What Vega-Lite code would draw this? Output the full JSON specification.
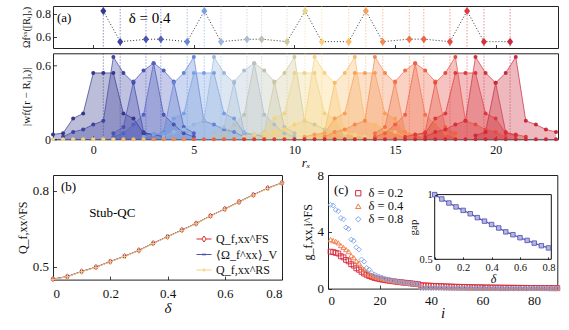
{
"$schema":"https://vega.github.io/schema/vega-lite/v6.json",
"background":"white",
"padding":{"left":15,"top":5,"right":5,"bottom":5},
"config":{"font":"Liberation Serif","view":{"stroke":"#222","strokeWidth":1},
"axis":{"grid":false,"domain":false,"tickSize":-3.5,"tickColor":"#111","tickWidth":0.8,"labelPadding":8,"labelFont":"Liberation Serif","labelFontSize":13,"labelColor":"#111","titleFont":"Liberation Serif","titleFontSize":13,"titleFontWeight":"normal","titleColor":"#111","titlePadding":3},
"legend":{"labelFont":"Liberation Serif","labelColor":"#111"}},
"datasets":{
"cent":[{"k":0,"r":0.5,"om":0.826},{"k":1,"r":1.34,"om":0.556},{"k":2,"r":2.62,"om":0.576},{"k":3,"r":3.36,"om":0.578},{"k":4,"r":4.67,"om":0.556},{"k":5,"r":5.52,"om":0.826},{"k":6,"r":6.35,"om":0.556},{"k":7,"r":7.64,"om":0.576},{"k":8,"r":8.37,"om":0.578},{"k":9,"r":9.63,"om":0.556},{"k":10,"r":10.53,"om":0.826},{"k":11,"r":11.36,"om":0.556},{"k":12,"r":12.7,"om":0.556},{"k":13,"r":13.55,"om":0.826},{"k":14,"r":14.39,"om":0.556},{"k":15,"r":15.71,"om":0.578},{"k":16,"r":16.43,"om":0.578},{"k":17,"r":17.73,"om":0.556},{"k":18,"r":18.58,"om":0.826},{"k":19,"r":19.42,"om":0.556},{"k":20,"r":20.72,"om":0.556}],
"wf":[
{"k":0,"r":-2,"w":0.04},{"k":0,"r":-1.5,"w":0.05},{"k":0,"r":-1,"w":0.17},{"k":0,"r":-0.5,"w":0.21},{"k":0,"r":0,"w":0.54},{"k":0,"r":0.5,"w":0.54},{"k":0,"r":1,"w":0.54},{"k":0,"r":1.5,"w":0.21},{"k":0,"r":2,"w":0.17},{"k":0,"r":2.5,"w":0.05},{"k":0,"r":3,"w":0.04},{"k":0,"r":3.5,"w":0.02},
{"k":1,"r":-1.5,"w":0.02},{"k":1,"r":-1,"w":0.06},{"k":1,"r":-0.5,"w":0.08},{"k":1,"r":0,"w":0.12},{"k":1,"r":0.5,"w":0.15},{"k":1,"r":1,"w":0.67},{"k":1,"r":1.5,"w":0.54},{"k":1,"r":2,"w":0.46},{"k":1,"r":2.5,"w":0.06},{"k":1,"r":3,"w":0.03},
{"k":2,"r":1,"w":0.05},{"k":2,"r":1.5,"w":0.1},{"k":2,"r":2,"w":0.47},{"k":2,"r":2.5,"w":0.56},{"k":2,"r":3,"w":0.62},{"k":2,"r":3.5,"w":0.2},{"k":2,"r":4,"w":0.12},{"k":2,"r":4.5,"w":0.05},{"k":2,"r":5,"w":0.02},
{"k":3,"r":1,"w":0.02},{"k":3,"r":1.5,"w":0.05},{"k":3,"r":2,"w":0.12},{"k":3,"r":2.5,"w":0.2},{"k":3,"r":3,"w":0.62},{"k":3,"r":3.5,"w":0.56},{"k":3,"r":4,"w":0.47},{"k":3,"r":4.5,"w":0.1},{"k":3,"r":5,"w":0.05},
{"k":4,"r":3,"w":0.03},{"k":4,"r":3.5,"w":0.06},{"k":4,"r":4,"w":0.46},{"k":4,"r":4.5,"w":0.54},{"k":4,"r":5,"w":0.67},{"k":4,"r":5.5,"w":0.15},{"k":4,"r":6,"w":0.12},{"k":4,"r":6.5,"w":0.08},{"k":4,"r":7,"w":0.06},{"k":4,"r":7.5,"w":0.02},
{"k":5,"r":2.5,"w":0.02},{"k":5,"r":3,"w":0.04},{"k":5,"r":3.5,"w":0.05},{"k":5,"r":4,"w":0.17},{"k":5,"r":4.5,"w":0.21},{"k":5,"r":5,"w":0.54},{"k":5,"r":5.5,"w":0.54},{"k":5,"r":6,"w":0.54},{"k":5,"r":6.5,"w":0.21},{"k":5,"r":7,"w":0.17},{"k":5,"r":7.5,"w":0.05},{"k":5,"r":8,"w":0.04},{"k":5,"r":8.5,"w":0.02},
{"k":6,"r":3.5,"w":0.02},{"k":6,"r":4,"w":0.06},{"k":6,"r":4.5,"w":0.08},{"k":6,"r":5,"w":0.12},{"k":6,"r":5.5,"w":0.15},{"k":6,"r":6,"w":0.67},{"k":6,"r":6.5,"w":0.54},{"k":6,"r":7,"w":0.46},{"k":6,"r":7.5,"w":0.06},{"k":6,"r":8,"w":0.03},
{"k":7,"r":6,"w":0.05},{"k":7,"r":6.5,"w":0.1},{"k":7,"r":7,"w":0.47},{"k":7,"r":7.5,"w":0.56},{"k":7,"r":8,"w":0.62},{"k":7,"r":8.5,"w":0.2},{"k":7,"r":9,"w":0.12},{"k":7,"r":9.5,"w":0.05},{"k":7,"r":10,"w":0.02},
{"k":8,"r":6,"w":0.02},{"k":8,"r":6.5,"w":0.05},{"k":8,"r":7,"w":0.12},{"k":8,"r":7.5,"w":0.2},{"k":8,"r":8,"w":0.62},{"k":8,"r":8.5,"w":0.56},{"k":8,"r":9,"w":0.47},{"k":8,"r":9.5,"w":0.1},{"k":8,"r":10,"w":0.05},
{"k":9,"r":8,"w":0.03},{"k":9,"r":8.5,"w":0.06},{"k":9,"r":9,"w":0.46},{"k":9,"r":9.5,"w":0.54},{"k":9,"r":10,"w":0.67},{"k":9,"r":10.5,"w":0.15},{"k":9,"r":11,"w":0.12},{"k":9,"r":11.5,"w":0.08},{"k":9,"r":12,"w":0.06},{"k":9,"r":12.5,"w":0.02},
{"k":10,"r":7.5,"w":0.02},{"k":10,"r":8,"w":0.04},{"k":10,"r":8.5,"w":0.05},{"k":10,"r":9,"w":0.17},{"k":10,"r":9.5,"w":0.21},{"k":10,"r":10,"w":0.54},{"k":10,"r":10.5,"w":0.54},{"k":10,"r":11,"w":0.54},{"k":10,"r":11.5,"w":0.21},{"k":10,"r":12,"w":0.17},{"k":10,"r":12.5,"w":0.05},{"k":10,"r":13,"w":0.04},{"k":10,"r":13.5,"w":0.02},
{"k":11,"r":8.5,"w":0.02},{"k":11,"r":9,"w":0.06},{"k":11,"r":9.5,"w":0.08},{"k":11,"r":10,"w":0.12},{"k":11,"r":10.5,"w":0.15},{"k":11,"r":11,"w":0.67},{"k":11,"r":11.5,"w":0.54},{"k":11,"r":12,"w":0.46},{"k":11,"r":12.5,"w":0.06},{"k":11,"r":13,"w":0.03},
{"k":12,"r":11,"w":0.03},{"k":12,"r":11.5,"w":0.06},{"k":12,"r":12,"w":0.46},{"k":12,"r":12.5,"w":0.54},{"k":12,"r":13,"w":0.67},{"k":12,"r":13.5,"w":0.15},{"k":12,"r":14,"w":0.12},{"k":12,"r":14.5,"w":0.08},{"k":12,"r":15,"w":0.06},{"k":12,"r":15.5,"w":0.02},
{"k":13,"r":10.5,"w":0.02},{"k":13,"r":11,"w":0.04},{"k":13,"r":11.5,"w":0.05},{"k":13,"r":12,"w":0.17},{"k":13,"r":12.5,"w":0.21},{"k":13,"r":13,"w":0.54},{"k":13,"r":13.5,"w":0.54},{"k":13,"r":14,"w":0.54},{"k":13,"r":14.5,"w":0.21},{"k":13,"r":15,"w":0.17},{"k":13,"r":15.5,"w":0.05},{"k":13,"r":16,"w":0.04},{"k":13,"r":16.5,"w":0.02},
{"k":14,"r":11.5,"w":0.02},{"k":14,"r":12,"w":0.06},{"k":14,"r":12.5,"w":0.08},{"k":14,"r":13,"w":0.12},{"k":14,"r":13.5,"w":0.15},{"k":14,"r":14,"w":0.67},{"k":14,"r":14.5,"w":0.54},{"k":14,"r":15,"w":0.46},{"k":14,"r":15.5,"w":0.06},{"k":14,"r":16,"w":0.03},
{"k":15,"r":14,"w":0.05},{"k":15,"r":14.5,"w":0.1},{"k":15,"r":15,"w":0.47},{"k":15,"r":15.5,"w":0.56},{"k":15,"r":16,"w":0.62},{"k":15,"r":16.5,"w":0.2},{"k":15,"r":17,"w":0.12},{"k":15,"r":17.5,"w":0.05},{"k":15,"r":18,"w":0.02},
{"k":16,"r":14,"w":0.02},{"k":16,"r":14.5,"w":0.05},{"k":16,"r":15,"w":0.12},{"k":16,"r":15.5,"w":0.2},{"k":16,"r":16,"w":0.62},{"k":16,"r":16.5,"w":0.56},{"k":16,"r":17,"w":0.47},{"k":16,"r":17.5,"w":0.1},{"k":16,"r":18,"w":0.05},
{"k":17,"r":16,"w":0.03},{"k":17,"r":16.5,"w":0.06},{"k":17,"r":17,"w":0.46},{"k":17,"r":17.5,"w":0.54},{"k":17,"r":18,"w":0.67},{"k":17,"r":18.5,"w":0.15},{"k":17,"r":19,"w":0.12},{"k":17,"r":19.5,"w":0.08},{"k":17,"r":20,"w":0.06},{"k":17,"r":20.5,"w":0.02},
{"k":18,"r":15.5,"w":0.02},{"k":18,"r":16,"w":0.04},{"k":18,"r":16.5,"w":0.05},{"k":18,"r":17,"w":0.17},{"k":18,"r":17.5,"w":0.21},{"k":18,"r":18,"w":0.54},{"k":18,"r":18.5,"w":0.54},{"k":18,"r":19,"w":0.54},{"k":18,"r":19.5,"w":0.21},{"k":18,"r":20,"w":0.17},{"k":18,"r":20.5,"w":0.05},{"k":18,"r":21,"w":0.04},{"k":18,"r":21.5,"w":0.02},
{"k":19,"r":16.5,"w":0.02},{"k":19,"r":17,"w":0.06},{"k":19,"r":17.5,"w":0.08},{"k":19,"r":18,"w":0.12},{"k":19,"r":18.5,"w":0.15},{"k":19,"r":19,"w":0.67},{"k":19,"r":19.5,"w":0.54},{"k":19,"r":20,"w":0.46},{"k":19,"r":20.5,"w":0.06},{"k":19,"r":21,"w":0.03},
{"k":20,"r":19,"w":0.03},{"k":20,"r":19.5,"w":0.06},{"k":20,"r":20,"w":0.46},{"k":20,"r":20.5,"w":0.54},{"k":20,"r":21,"w":0.67},{"k":20,"r":21.5,"w":0.15},{"k":20,"r":22,"w":0.12},{"k":20,"r":22.5,"w":0.08},{"k":20,"r":23,"w":0.06}],
"sites":[{"r":-2,"k":10,"w":0},{"r":-1.5,"k":10,"w":0},{"r":-1,"k":10,"w":0},{"r":-0.5,"k":10,"w":0},{"r":0,"k":11,"w":0},{"r":0.5,"k":11,"w":0},{"r":1,"k":11,"w":0},{"r":1.5,"k":12,"w":0},{"r":2,"k":12,"w":0},{"r":2.5,"k":12,"w":0},{"r":3,"k":14,"w":0},{"r":3.5,"k":14,"w":0},{"r":4,"k":14,"w":0},{"r":4.5,"k":14,"w":0},{"r":5,"k":16,"w":0},{"r":5.5,"k":16,"w":0},{"r":6,"k":16,"w":0},{"r":6.5,"k":16,"w":0},{"r":7,"k":16,"w":0},{"r":7.5,"k":18,"w":0},{"r":8,"k":18,"w":0},{"r":8.5,"k":18,"w":0},{"r":9,"k":18,"w":0},{"r":9.5,"k":18,"w":0},{"r":10,"k":20,"w":0},{"r":10.5,"k":20,"w":0},{"r":11,"k":20,"w":0},{"r":11.5,"k":20,"w":0},{"r":12,"k":20,"w":0},{"r":12.5,"k":20,"w":0},{"r":13,"k":20,"w":0},{"r":13.5,"k":20,"w":0},{"r":14,"k":20,"w":0},{"r":14.5,"k":20,"w":0},{"r":15,"k":20,"w":0},{"r":15.5,"k":20,"w":0},{"r":16,"k":20,"w":0},{"r":16.5,"k":20,"w":0},{"r":17,"k":20,"w":0},{"r":17.5,"k":20,"w":0},{"r":18,"k":20,"w":0},{"r":18.5,"k":20,"w":0},{"r":19,"k":20,"w":0},{"r":19.5,"k":20,"w":0},{"r":20,"k":20,"w":0},{"r":20.5,"k":20,"w":0},{"r":21,"k":20,"w":0},{"r":21.5,"k":20,"w":0},{"r":22,"k":20,"w":0},{"r":22.5,"k":20,"w":0},{"r":23,"k":20,"w":0}],
"qb":[{"x":0,"s":"FS","q":0.452},{"x":0.05,"s":"FS","q":0.462},{"x":0.1,"s":"FS","q":0.482},{"x":0.15,"s":"FS","q":0.499},{"x":0.2,"s":"FS","q":0.521},{"x":0.25,"s":"FS","q":0.542},{"x":0.3,"s":"FS","q":0.565},{"x":0.35,"s":"FS","q":0.593},{"x":0.4,"s":"FS","q":0.619},{"x":0.45,"s":"FS","q":0.645},{"x":0.5,"s":"FS","q":0.671},{"x":0.55,"s":"FS","q":0.701},{"x":0.6,"s":"FS","q":0.728},{"x":0.65,"s":"FS","q":0.756},{"x":0.7,"s":"FS","q":0.784},{"x":0.75,"s":"FS","q":0.81},{"x":0.8,"s":"FS","q":0.831},
{"x":0,"s":"OM","q":0.452},{"x":0.05,"s":"OM","q":0.462},{"x":0.1,"s":"OM","q":0.482},{"x":0.15,"s":"OM","q":0.499},{"x":0.2,"s":"OM","q":0.521},{"x":0.25,"s":"OM","q":0.542},{"x":0.3,"s":"OM","q":0.565},{"x":0.35,"s":"OM","q":0.593},{"x":0.4,"s":"OM","q":0.619},{"x":0.45,"s":"OM","q":0.645},{"x":0.5,"s":"OM","q":0.671},{"x":0.55,"s":"OM","q":0.701},{"x":0.6,"s":"OM","q":0.728},{"x":0.65,"s":"OM","q":0.756},{"x":0.7,"s":"OM","q":0.784},{"x":0.75,"s":"OM","q":0.81},{"x":0.8,"s":"OM","q":0.831},
{"x":0,"s":"RS","q":0.451},{"x":0.05,"s":"RS","q":0.461},{"x":0.1,"s":"RS","q":0.481},{"x":0.15,"s":"RS","q":0.498},{"x":0.2,"s":"RS","q":0.52},{"x":0.25,"s":"RS","q":0.541},{"x":0.3,"s":"RS","q":0.564},{"x":0.35,"s":"RS","q":0.592},{"x":0.4,"s":"RS","q":0.618},{"x":0.45,"s":"RS","q":0.644},{"x":0.5,"s":"RS","q":0.67},{"x":0.55,"s":"RS","q":0.7},{"x":0.6,"s":"RS","q":0.727},{"x":0.65,"s":"RS","q":0.755},{"x":0.7,"s":"RS","q":0.783},{"x":0.75,"s":"RS","q":0.809},{"x":0.8,"s":"RS","q":0.83}],
"gap":[{"x":0,"g":1.0},{"x":0.05,"g":0.966},{"x":0.1,"g":0.935},{"x":0.15,"g":0.905},{"x":0.2,"g":0.878},{"x":0.25,"g":0.852},{"x":0.3,"g":0.822},{"x":0.35,"g":0.795},{"x":0.4,"g":0.769},{"x":0.45,"g":0.742},{"x":0.5,"g":0.712},{"x":0.55,"g":0.69},{"x":0.6,"g":0.667},{"x":0.65,"g":0.646},{"x":0.7,"g":0.625},{"x":0.75,"g":0.605},{"x":0.8,"g":0.588}],
"gc":[
{"i":1,"d":"a","g":2.6},{"i":2,"d":"a","g":2.57},{"i":3,"d":"a","g":2.52},{"i":4,"d":"a","g":2.47},{"i":5,"d":"a","g":2.28},{"i":6,"d":"a","g":2.2},{"i":7,"d":"a","g":2.02},{"i":8,"d":"a","g":1.92},{"i":9,"d":"a","g":1.72},{"i":10,"d":"a","g":1.62},{"i":11,"d":"a","g":1.43},{"i":12,"d":"a","g":1.33},{"i":13,"d":"a","g":1.18},{"i":14,"d":"a","g":1.06},{"i":15,"d":"a","g":0.97},{"i":16,"d":"a","g":0.88},{"i":17,"d":"a","g":0.82},{"i":18,"d":"a","g":0.75},{"i":19,"d":"a","g":0.71},{"i":20,"d":"a","g":0.67},{"i":21,"d":"a","g":0.63},{"i":22,"d":"a","g":0.6},{"i":23,"d":"a","g":0.57},{"i":24,"d":"a","g":0.55},{"i":25,"d":"a","g":0.52},{"i":26,"d":"a","g":0.5},{"i":27,"d":"a","g":0.47},{"i":28,"d":"a","g":0.45},{"i":29,"d":"a","g":0.43},{"i":30,"d":"a","g":0.41},{"i":31,"d":"a","g":0.39},{"i":32,"d":"a","g":0.37},{"i":33,"d":"a","g":0.35},{"i":34,"d":"a","g":0.33},{"i":35,"d":"a","g":0.31},{"i":36,"d":"a","g":0.24},{"i":37,"d":"a","g":0.23},{"i":38,"d":"a","g":0.22},{"i":39,"d":"a","g":0.21},{"i":40,"d":"a","g":0.2},{"i":41,"d":"a","g":0.19},{"i":42,"d":"a","g":0.18},{"i":43,"d":"a","g":0.18},{"i":44,"d":"a","g":0.17},{"i":45,"d":"a","g":0.16},{"i":46,"d":"a","g":0.15},{"i":47,"d":"a","g":0.15},{"i":48,"d":"a","g":0.14},{"i":49,"d":"a","g":0.13},{"i":50,"d":"a","g":0.13},{"i":51,"d":"a","g":0.12},{"i":52,"d":"a","g":0.12},{"i":53,"d":"a","g":0.11},{"i":54,"d":"a","g":0.11},{"i":55,"d":"a","g":0.1},{"i":56,"d":"a","g":0.1},{"i":57,"d":"a","g":0.095},{"i":58,"d":"a","g":0.09},{"i":59,"d":"a","g":0.09},{"i":60,"d":"a","g":0.085},{"i":61,"d":"a","g":0.08},{"i":62,"d":"a","g":0.08},{"i":63,"d":"a","g":0.075},{"i":64,"d":"a","g":0.075},{"i":65,"d":"a","g":0.07},{"i":66,"d":"a","g":0.07},{"i":67,"d":"a","g":0.065},{"i":68,"d":"a","g":0.065},{"i":69,"d":"a","g":0.06},{"i":70,"d":"a","g":0.06},{"i":71,"d":"a","g":0.058},{"i":72,"d":"a","g":0.056},{"i":73,"d":"a","g":0.054},{"i":74,"d":"a","g":0.052},{"i":75,"d":"a","g":0.05},{"i":76,"d":"a","g":0.048},{"i":77,"d":"a","g":0.046},{"i":78,"d":"a","g":0.044},{"i":79,"d":"a","g":0.042},{"i":80,"d":"a","g":0.04},{"i":81,"d":"a","g":0.039},{"i":82,"d":"a","g":0.038},{"i":83,"d":"a","g":0.037},{"i":84,"d":"a","g":0.036},{"i":85,"d":"a","g":0.035},{"i":86,"d":"a","g":0.034},{"i":87,"d":"a","g":0.033},{"i":88,"d":"a","g":0.032},{"i":89,"d":"a","g":0.031},
{"i":1,"d":"b","g":3.45},{"i":2,"d":"b","g":3.38},{"i":3,"d":"b","g":3.32},{"i":4,"d":"b","g":3.22},{"i":5,"d":"b","g":3.03},{"i":6,"d":"b","g":2.9},{"i":7,"d":"b","g":2.75},{"i":8,"d":"b","g":2.6},{"i":9,"d":"b","g":2.32},{"i":10,"d":"b","g":2.18},{"i":11,"d":"b","g":1.94},{"i":12,"d":"b","g":1.8},{"i":13,"d":"b","g":1.51},{"i":14,"d":"b","g":1.37},{"i":15,"d":"b","g":1.14},{"i":16,"d":"b","g":1.04},{"i":17,"d":"b","g":0.93},{"i":18,"d":"b","g":0.86},{"i":19,"d":"b","g":0.8},{"i":20,"d":"b","g":0.75},{"i":21,"d":"b","g":0.7},{"i":22,"d":"b","g":0.66},{"i":23,"d":"b","g":0.62},{"i":24,"d":"b","g":0.58},{"i":25,"d":"b","g":0.55},{"i":26,"d":"b","g":0.52},{"i":27,"d":"b","g":0.49},{"i":28,"d":"b","g":0.46},{"i":29,"d":"b","g":0.44},{"i":30,"d":"b","g":0.41},{"i":31,"d":"b","g":0.39},{"i":32,"d":"b","g":0.37},{"i":33,"d":"b","g":0.35},{"i":34,"d":"b","g":0.33},{"i":35,"d":"b","g":0.31},{"i":36,"d":"b","g":0.12},{"i":37,"d":"b","g":0.115},{"i":38,"d":"b","g":0.11},{"i":39,"d":"b","g":0.105},{"i":40,"d":"b","g":0.1},{"i":41,"d":"b","g":0.095},{"i":42,"d":"b","g":0.09},{"i":43,"d":"b","g":0.085},{"i":44,"d":"b","g":0.08},{"i":45,"d":"b","g":0.076},{"i":46,"d":"b","g":0.072},{"i":47,"d":"b","g":0.068},{"i":48,"d":"b","g":0.064},{"i":49,"d":"b","g":0.06},{"i":50,"d":"b","g":0.057},{"i":51,"d":"b","g":0.054},{"i":52,"d":"b","g":0.051},{"i":53,"d":"b","g":0.048},{"i":54,"d":"b","g":0.045},{"i":55,"d":"b","g":0.043},{"i":56,"d":"b","g":0.041},{"i":57,"d":"b","g":0.039},{"i":58,"d":"b","g":0.037},{"i":59,"d":"b","g":0.035},{"i":60,"d":"b","g":0.033},{"i":61,"d":"b","g":0.032},{"i":62,"d":"b","g":0.031},{"i":63,"d":"b","g":0.03},{"i":64,"d":"b","g":0.029},{"i":65,"d":"b","g":0.028},{"i":66,"d":"b","g":0.027},{"i":67,"d":"b","g":0.026},{"i":68,"d":"b","g":0.025},{"i":69,"d":"b","g":0.024},{"i":70,"d":"b","g":0.023},{"i":71,"d":"b","g":0.022},{"i":72,"d":"b","g":0.021},{"i":73,"d":"b","g":0.021},{"i":74,"d":"b","g":0.02},{"i":75,"d":"b","g":0.02},{"i":76,"d":"b","g":0.019},{"i":77,"d":"b","g":0.019},{"i":78,"d":"b","g":0.018},{"i":79,"d":"b","g":0.018},{"i":80,"d":"b","g":0.017},{"i":81,"d":"b","g":0.017},{"i":82,"d":"b","g":0.016},{"i":83,"d":"b","g":0.016},{"i":84,"d":"b","g":0.015},{"i":85,"d":"b","g":0.015},{"i":86,"d":"b","g":0.015},{"i":87,"d":"b","g":0.014},{"i":88,"d":"b","g":0.014},{"i":89,"d":"b","g":0.014},
{"i":1,"d":"c","g":5.9},{"i":2,"d":"c","g":5.85},{"i":3,"d":"c","g":5.55},{"i":4,"d":"c","g":5.45},{"i":5,"d":"c","g":4.97},{"i":6,"d":"c","g":4.88},{"i":7,"d":"c","g":4.3},{"i":8,"d":"c","g":4.2},{"i":9,"d":"c","g":3.45},{"i":10,"d":"c","g":3.36},{"i":11,"d":"c","g":2.9},{"i":12,"d":"c","g":2.75},{"i":13,"d":"c","g":2.05},{"i":14,"d":"c","g":1.9},{"i":15,"d":"c","g":1.45},{"i":16,"d":"c","g":1.35},{"i":17,"d":"c","g":1.1},{"i":18,"d":"c","g":1.0},{"i":19,"d":"c","g":0.9},{"i":20,"d":"c","g":0.84},{"i":21,"d":"c","g":0.78},{"i":22,"d":"c","g":0.72},{"i":23,"d":"c","g":0.66},{"i":24,"d":"c","g":0.62},{"i":25,"d":"c","g":0.57},{"i":26,"d":"c","g":0.53},{"i":27,"d":"c","g":0.5},{"i":28,"d":"c","g":0.47},{"i":29,"d":"c","g":0.44},{"i":30,"d":"c","g":0.41},{"i":31,"d":"c","g":0.39},{"i":32,"d":"c","g":0.37},{"i":33,"d":"c","g":0.35},{"i":34,"d":"c","g":0.33},{"i":35,"d":"c","g":0.31},{"i":36,"d":"c","g":0.03},{"i":37,"d":"c","g":0.029},{"i":38,"d":"c","g":0.028},{"i":39,"d":"c","g":0.027},{"i":40,"d":"c","g":0.026},{"i":41,"d":"c","g":0.025},{"i":42,"d":"c","g":0.024},{"i":43,"d":"c","g":0.023},{"i":44,"d":"c","g":0.022},{"i":45,"d":"c","g":0.021},{"i":46,"d":"c","g":0.02},{"i":47,"d":"c","g":0.019},{"i":48,"d":"c","g":0.018},{"i":49,"d":"c","g":0.018},{"i":50,"d":"c","g":0.017},{"i":51,"d":"c","g":0.016},{"i":52,"d":"c","g":0.016},{"i":53,"d":"c","g":0.015},{"i":54,"d":"c","g":0.015},{"i":55,"d":"c","g":0.014},{"i":56,"d":"c","g":0.014},{"i":57,"d":"c","g":0.013},{"i":58,"d":"c","g":0.013},{"i":59,"d":"c","g":0.012},{"i":60,"d":"c","g":0.012},{"i":61,"d":"c","g":0.011},{"i":62,"d":"c","g":0.011},{"i":63,"d":"c","g":0.011},{"i":64,"d":"c","g":0.01},{"i":65,"d":"c","g":0.01},{"i":66,"d":"c","g":0.01},{"i":67,"d":"c","g":0.009},{"i":68,"d":"c","g":0.009},{"i":69,"d":"c","g":0.009},{"i":70,"d":"c","g":0.009},{"i":71,"d":"c","g":0.008},{"i":72,"d":"c","g":0.008},{"i":73,"d":"c","g":0.008},{"i":74,"d":"c","g":0.008},{"i":75,"d":"c","g":0.007},{"i":76,"d":"c","g":0.007},{"i":77,"d":"c","g":0.007},{"i":78,"d":"c","g":0.007},{"i":79,"d":"c","g":0.006},{"i":80,"d":"c","g":0.006},{"i":81,"d":"c","g":0.006},{"i":82,"d":"c","g":0.006},{"i":83,"d":"c","g":0.006},{"i":84,"d":"c","g":0.005},{"i":85,"d":"c","g":0.005},{"i":86,"d":"c","g":0.005},{"i":87,"d":"c","g":0.005},{"i":88,"d":"c","g":0.005},{"i":89,"d":"c","g":0.005}]
},
"spacing":-3,
"resolve":{"scale":{"color":"independent","shape":"independent"},"legend":{"color":"independent","shape":"independent"}},
"vconcat":[
{"spacing":3.3,
"resolve":{"scale":{"color":"independent"},"legend":{"color":"independent"}},
"vconcat":[
{"width":505,"height":42,
"layer":[
{"data":{"name":"cent"},"mark":{"type":"rule","strokeDash":[1.5,1.5],"strokeWidth":1,"opacity":0.55},
"encoding":{"x":{"field":"r","type":"quantitative","scale":{"domain":[-2,23.1],"nice":false,"zero":false},"axis":{"values":[0,5,10,15,20],"labels":false,"title":null}},
"color":{"field":"k","type":"nominal","scale":{"domain":[0,1,2,3,4,5,6,7,8,9,10,11,12,13,14,15,16,17,18,19,20],"range":["#35388c","#3d43a0","#4853b2","#5262c0","#6486d6","#78a0e2","#98b6de","#acbfd2","#bcc2b4","#d0c99c","#ecd488","#f8d27a","#f8bc66","#f6a058","#f38a50","#f07348","#ed6244","#e54c40","#dc3a3d","#d3303c","#c92a3b"]},"legend":null}}},
{"data":{"name":"cent"},"mark":{"type":"line","color":"#333","strokeDash":[1,2],"strokeWidth":1},
"encoding":{"x":{"field":"r","type":"quantitative"},"y":{"field":"om","type":"quantitative","scale":{"domain":[0.5,0.87],"nice":false,"zero":false},"axis":{"values":[0.6,0.8],"labelFontSize":12,"labelPadding":6,"title":"Ωfˣˣ([Rᵢ]ₓ)","titleFontSize":10,"titlePadding":4}}}},
{"data":{"name":"cent"},"mark":{"type":"point","shape":"M0,-1L0.75,0L0,1L-0.75,0Z","filled":true,"size":64,"opacity":1},
"encoding":{"x":{"field":"r","type":"quantitative"},"y":{"field":"om","type":"quantitative"},"color":{"field":"k","type":"nominal","legend":null}}},
{"data":{"values":[{}]},"mark":{"type":"text","text":"(a)","align":"left","baseline":"middle","fontSize":13},"encoding":{"x":{"datum":-1.8},"y":{"datum":0.762}}},
{"data":{"values":[{}]},"mark":{"type":"text","text":"δ = 0.4","align":"center","baseline":"middle","fontSize":15},"encoding":{"x":{"datum":2.8},"y":{"datum":0.762}}}
]},
{"width":505,"height":86,
"layer":[
{"data":{"name":"cent"},"mark":{"type":"rule","strokeDash":[1.5,1.5],"strokeWidth":1,"opacity":0.55},
"encoding":{"x":{"field":"r","type":"quantitative","scale":{"domain":[-2,23.1],"nice":false,"zero":false},"axis":{"values":[0,5,10,15,20],"labelFontSize":12,"labelPadding":9,"title":"rₓ","titleFontStyle":"italic","titlePadding":1}},
"color":{"field":"k","type":"nominal","scale":{"domain":[0,1,2,3,4,5,6,7,8,9,10,11,12,13,14,15,16,17,18,19,20],"range":["#35388c","#3d43a0","#4853b2","#5262c0","#6486d6","#78a0e2","#98b6de","#acbfd2","#bcc2b4","#d0c99c","#ecd488","#f8d27a","#f8bc66","#f6a058","#f38a50","#f07348","#ed6244","#e54c40","#dc3a3d","#d3303c","#c92a3b"]},"legend":null}}},
{"data":{"name":"wf"},"mark":{"type":"area","fillOpacity":0.33,"line":{"strokeWidth":0.7}},
"encoding":{"x":{"field":"r","type":"quantitative"},"y":{"field":"w","type":"quantitative","stack":null,"scale":{"domain":[0,0.7],"nice":false,"zero":false},"axis":{"values":[0,0.2,0.4,0.6],"format":"~g","labelFontSize":12,"labelPadding":6,"title":"|wf([r − Rᵢ]ₓ)|","titleFontSize":11,"titlePadding":4}},
"color":{"field":"k","type":"nominal","legend":null}}},
{"data":{"name":"wf"},"mark":{"type":"point","filled":true,"size":16,"opacity":1},
"encoding":{"x":{"field":"r","type":"quantitative"},"y":{"field":"w","type":"quantitative"},"color":{"field":"k","type":"nominal","legend":null}}},
{"data":{"name":"sites"},"mark":{"type":"point","filled":true,"size":16,"opacity":1},
"encoding":{"x":{"field":"r","type":"quantitative"},"y":{"field":"w","type":"quantitative"},"color":{"field":"k","type":"nominal","legend":null}}}
]}
]},
{"spacing":12,
"resolve":{"scale":{"color":"independent","shape":"independent"},"legend":{"color":"independent","shape":"independent"}},
"hconcat":[
{"width":229,"height":104.6,
"layer":[
{"data":{"name":"qb"},"mark":{"type":"line","strokeWidth":1},
"encoding":{"x":{"field":"x","type":"quantitative","scale":{"domain":[0,0.8],"nice":false,"zero":false},"axis":{"values":[0,0.2,0.4,0.6,0.8],"format":"~g","labelPadding":11,"title":"δ","titleFontStyle":"italic","titleFontSize":15,"titlePadding":0}},
"y":{"field":"q","type":"quantitative","scale":{"domain":[0.45,0.862],"nice":false,"zero":false},"axis":{"values":[0.5,0.6,0.7,0.8],"format":"~g","title":"Q_f,xx^FS","titleFontSize":12}},
"color":{"field":"s","type":"nominal","scale":{"domain":["FS","OM","RS"],"range":["#e3242e","#5452b4","#f7cf72"]},"legend":{"title":null,"orient":"bottom-right","offset":4,"symbolSize":225,"symbolStrokeWidth":1,"labelFontSize":12,"rowPadding":1.5,"labelExpr":"datum.value==='FS' ? 'Q_f,xx^FS' : datum.value==='OM' ? '⟨Ω_f^xx⟩_V' : 'Q_f,xx^RS'","encode":{"symbols":{"update":{"shape":{"signal":"datum.value==='FS' ? 'M-1,0H-0.28M0.28,0H1M0,-0.4L0.28,0L0,0.4L-0.28,0Z' : datum.value==='OM' ? 'M-1,0H1M-0.15,-0.15L0.15,0.15M-0.15,0.15L0.15,-0.15' : 'M-1,0H1M0,-0.25V0.25'"},"fill":{"value":"transparent"}}}}}}}},
{"data":{"name":"qb"},"transform":[{"filter":"datum.s==='FS'"}],"mark":{"type":"point","shape":"M0,-0.85L0.6,0L0,0.85L-0.6,0Z","filled":false,"strokeWidth":1,"size":40,"opacity":1},
"encoding":{"x":{"field":"x","type":"quantitative"},"y":{"field":"q","type":"quantitative"},"color":{"field":"s","type":"nominal","legend":null}}},
{"data":{"name":"qb"},"transform":[{"filter":"datum.s==='OM'"}],"mark":{"type":"point","shape":"M-0.45,-0.45L0.45,0.45M-0.45,0.45L0.45,-0.45","filled":false,"strokeWidth":1,"size":40,"opacity":1},
"encoding":{"x":{"field":"x","type":"quantitative"},"y":{"field":"q","type":"quantitative"},"color":{"field":"s","type":"nominal","legend":null}}},
{"data":{"name":"qb"},"transform":[{"filter":"datum.s==='RS'"}],"mark":{"type":"point","shape":"M-0.8,0H0.8M0,-0.8V0.8","filled":false,"strokeWidth":1,"size":40,"opacity":1},
"encoding":{"x":{"field":"x","type":"quantitative"},"y":{"field":"q","type":"quantitative"},"color":{"field":"s","type":"nominal","legend":null}}},
{"data":{"values":[{}]},"mark":{"type":"text","text":"(b)","align":"left","baseline":"middle","fontSize":13},"encoding":{"x":{"datum":0.028},"y":{"datum":0.814}}},
{"data":{"values":[{}]},"mark":{"type":"text","text":"Stub-QC","align":"center","baseline":"middle","fontSize":13},"encoding":{"x":{"datum":0.207},"y":{"datum":0.711}}}
]},
{"width":229.3,"height":113.6,
"resolve":{"scale":{"x":"independent","y":"independent"},"axis":{"x":"independent","y":"independent"}},
"layer":[
{"layer":[
{"data":{"name":"gc"},"mark":{"type":"point","filled":false,"strokeWidth":0.9,"size":24,"opacity":1},
"encoding":{"x":{"field":"i","type":"quantitative","scale":{"domain":[0,89],"nice":false,"zero":false},"axis":{"values":[0,20,40,60,80],"labelPadding":9,"title":"i","titleFontStyle":"italic","titleFontSize":15,"titlePadding":-2}},
"y":{"field":"g","type":"quantitative","scale":{"domain":[0,8],"nice":false},"axis":{"values":[0,2,4,6,8],"title":"g_f,xx,i^FS","titleFontSize":12}},
"color":{"field":"d","type":"nominal","scale":{"domain":["a","b","c"],"range":["#d8283c","#f07a48","#7ea6ea"]},"legend":{"title":null,"orient":"none","legendX":24,"legendY":12,"symbolSize":28,"symbolStrokeWidth":1,"labelFontSize":12.5,"rowPadding":-1,"labelExpr":"datum.value==='a' ? 'δ = 0.2' : datum.value==='b' ? 'δ = 0.4' : 'δ = 0.8'"}},
"shape":{"field":"d","type":"nominal","scale":{"domain":["a","b","c"],"range":["square","triangle-up","diamond"]},"legend":{"title":null,"orient":"none","legendX":24,"legendY":12,"symbolSize":28,"symbolStrokeWidth":1,"labelFontSize":12.5,"rowPadding":-1,"labelExpr":"datum.value==='a' ? 'δ = 0.2' : datum.value==='b' ? 'δ = 0.4' : 'δ = 0.8'"}}}},
{"data":{"values":[{}]},"mark":{"type":"text","text":"(c)","align":"left","baseline":"middle","fontSize":13},"encoding":{"x":{"datum":2.3},"y":{"datum":6.94}}}
]},
{"layer":[
{"data":{"values":[{}]},"mark":{"type":"rect","fill":"white","stroke":"#111","strokeWidth":1},
"encoding":{"x":{"datum":0,"type":"quantitative","scale":{"domain":[0,0.82],"range":[106.7,223.3],"nice":false,"zero":false},"axis":{"orient":"bottom","offset":-29.3,"zindex":1,"values":[0,0.2,0.4,0.6,0.8],"format":"~g","labelFontSize":10.5,"labelPadding":6,"tickSize":-2.5,"title":"δ","titleFontStyle":"italic","titleFontSize":12,"titlePadding":0}},"x2":{"datum":0.82},
"y":{"datum":0.5,"type":"quantitative","scale":{"domain":[0.5,1],"range":[84.3,19.6],"nice":false,"zero":false},"axis":{"orient":"left","offset":-106.7,"zindex":1,"values":[0.5,1],"format":"~g","labelFontSize":10.5,"labelPadding":5,"tickSize":-2.5,"title":"gap","titleFontSize":11,"titlePadding":1}},"y2":{"datum":1}}},
{"data":{"name":"gap"},"mark":{"type":"line","color":"#5454b6","strokeWidth":1.2},
"encoding":{"x":{"field":"x","type":"quantitative"},"y":{"field":"g","type":"quantitative"}}},
{"data":{"name":"gap"},"mark":{"type":"point","shape":"square","filled":true,"fill":"#b6b6e6","stroke":"#4c4cae","strokeWidth":0.8,"size":20,"opacity":1},
"encoding":{"x":{"field":"x","type":"quantitative"},"y":{"field":"g","type":"quantitative"}}}
]}
]}
]}
]
}
